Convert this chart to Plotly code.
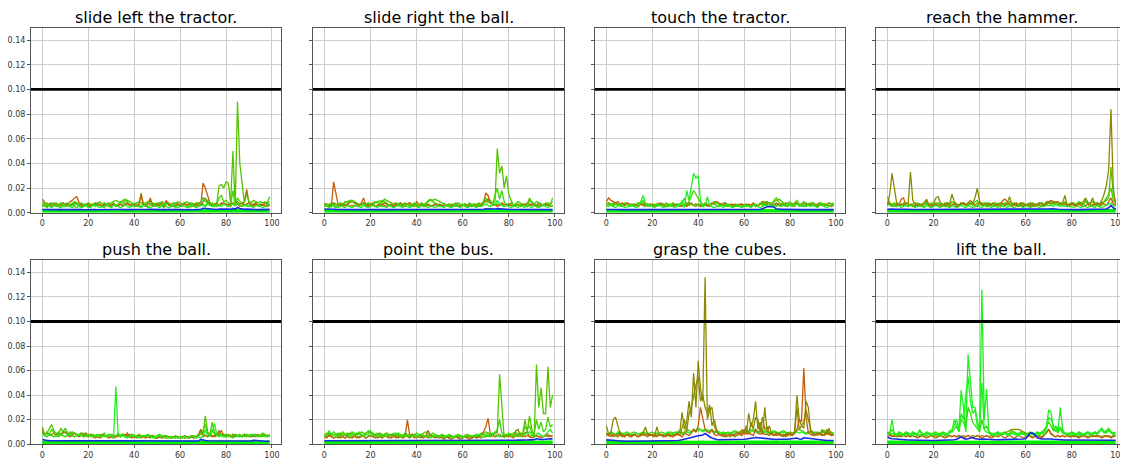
import plotly.graph_objects as go
from plotly.subplots import make_subplots

steps = list(range(100))
threshold = 0.10

titles = [
    "slide left the tractor.", "slide right the ball.", "touch the tractor.", "reach the hammer.",
    "push the ball.", "point the bus.", "grasp the cubes.", "lift the ball.",
]

# line colours
GREEN = '#55c400'
GREEN2 = '#3cd800'
LIME = '#1ef01e'
OLIVE = '#8a8a00'
ORANGE = '#c45e0c'
BLUE = '#1428e6'
FLOOR = '#00ee00'

floor = [
    2.2, 2.1, 2.3, 2.2, 2.1, 2.2, 2.0, 2.1, 2.2, 2.1,
    2.1, 2.2, 2.1, 2.0, 2.1, 2.2, 2.1, 2.1, 2.0, 2.1,
    2.2, 2.1, 2.0, 2.1, 2.2, 2.1, 2.1, 2.2, 2.1, 2.0,
    2.1, 2.2, 2.1, 2.1, 2.2, 2.1, 2.0, 2.1, 2.2, 2.1,
    2.1, 2.2, 2.1, 2.0, 2.1, 2.1, 2.2, 2.1, 2.0, 2.1,
    2.2, 2.1, 2.1, 2.0, 2.1, 2.2, 2.1, 2.1, 2.2, 2.1,
    2.0, 2.1, 2.2, 2.1, 2.1, 2.0, 2.1, 2.2, 2.1, 2.1,
    2.2, 2.1, 2.0, 2.1, 2.2, 2.1, 2.1, 2.2, 2.1, 2.0,
    2.1, 2.2, 2.1, 2.1, 2.0, 2.1, 2.2, 2.1, 2.1, 2.2,
    2.1, 2.0, 2.1, 2.2, 2.1, 2.1, 2.2, 2.1, 2.0, 2.2]

# --- slide left the tractor.
p1_green = [
    9, 7, 8, 6, 7, 8, 7, 6, 8, 7,
    7, 8, 6, 7, 9, 8, 7, 8, 6, 7,
    8, 7, 6, 8, 7, 9, 7, 8, 7, 6,
    8, 9, 10, 9, 8, 10, 11, 10, 9, 8,
    7, 8, 9, 8, 7, 8, 9, 7, 8, 7,
    8, 7, 9, 8, 7, 8, 6, 8, 7, 9,
    8, 7, 8, 9, 7, 8, 7, 8, 7, 9,
    12, 9, 10, 8, 7, 6, 8, 22, 23, 20,
    25, 24, 8, 50, 5, 90, 40, 25, 8, 15,
    9, 8, 10, 9, 8, 9, 8, 9, 8, 13]
p1_green2 = [
    5, 6, 4, 7, 5, 6, 8, 5, 4, 6,
    7, 5, 6, 8, 5, 4, 6, 7, 5, 6,
    4, 6, 7, 5, 8, 6, 5, 4, 7, 6,
    5, 8, 6, 7, 9, 8, 10, 9, 7, 6,
    5, 7, 6, 5, 8, 6, 4, 7, 5, 6,
    7, 5, 6, 4, 7, 8, 5, 6, 4, 7,
    5, 6, 8, 5, 4, 7, 6, 5, 8, 6,
    7, 5, 9, 6, 8, 5, 7, 12, 14, 9,
    10, 8, 6, 18, 7, 12, 9, 8, 6, 7,
    5, 7, 6, 8, 5, 7, 6, 5, 7, 9]
p1_lime = [
    6, 5, 7, 5, 4, 6, 5, 6, 4, 5,
    5, 6, 5, 4, 6, 7, 5, 4, 5, 6,
    5, 4, 6, 6, 5, 4, 5, 5, 7, 5,
    4, 6, 6, 5, 4, 5, 7, 5, 4, 6,
    5, 6, 5, 4, 6, 6, 5, 4, 5, 6,
    5, 4, 6, 7, 5, 4, 5, 6, 5, 4,
    5, 6, 5, 4, 6, 6, 5, 4, 5, 6,
    6, 5, 7, 6, 5, 6, 5, 6, 5, 7,
    6, 5, 6, 7, 6, 8, 6, 5, 6, 5,
    6, 5, 4, 6, 6, 5, 4, 5, 6, 7]
p1_olive = [
    7, 6, 5, 7, 8, 6, 5, 7, 6, 8,
    6, 7, 5, 6, 8, 7, 6, 5, 7, 6,
    7, 5, 6, 8, 6, 7, 5, 6, 7, 8,
    6, 7, 6, 5, 7, 6, 8, 7, 6, 5,
    7, 6, 5, 16, 7, 6, 8, 10, 6, 7,
    6, 8, 7, 6, 9, 7, 5, 6, 8, 7,
    6, 7, 8, 6, 7, 5, 6, 7, 8, 6,
    9, 12, 8, 7, 6, 7, 8, 6, 7, 8,
    7, 6, 8, 7, 6, 9, 7, 8, 6, 7,
    8, 6, 7, 8, 6, 7, 6, 8, 7, 6]
p1_orange = [
    11, 8, 6, 7, 5, 6, 7, 5, 6, 8,
    7, 6, 9, 10, 12, 13, 8, 6, 5, 7,
    6, 5, 7, 6, 8, 6, 5, 7, 6, 5,
    6, 7, 5, 6, 7, 5, 6, 8, 6, 7,
    6, 5, 7, 14, 6, 5, 7, 12, 6, 5,
    7, 6, 8, 5, 10, 6, 7, 5, 6, 7,
    6, 5, 7, 6, 8, 5, 6, 7, 5, 6,
    24, 20, 14, 8, 6, 7, 5, 6, 8, 7,
    6, 7, 5, 8, 6, 7, 5, 6, 9, 19,
    8, 6, 5, 7, 6, 5, 7, 6, 5, 6]
p1_blue = [
    2.6, 2.5, 2.5, 2.4, 2.5, 2.5, 2.4, 2.5, 2.5, 2.4,
    2.5, 2.5, 2.6, 2.5, 2.5, 2.7, 2.6, 2.5, 2.4, 2.5,
    2.5, 2.4, 2.5, 2.5, 2.4, 2.5, 2.5, 2.4, 2.5, 2.5,
    2.5, 2.6, 2.6, 2.5, 2.6, 2.7, 2.7, 2.6, 2.5, 2.5,
    2.6, 2.5, 2.6, 2.8, 2.6, 2.5, 2.6, 2.7, 2.5, 2.5,
    2.5, 2.5, 2.6, 2.5, 2.6, 2.5, 2.4, 2.5, 2.5, 2.6,
    2.5, 2.5, 2.5, 2.6, 2.5, 2.5, 2.4, 2.5, 2.5, 2.6,
    3.6, 3.4, 3.0, 2.8, 2.7, 2.6, 2.6, 2.9, 3.0, 2.9,
    3.1, 3.0, 2.7, 3.5, 2.8, 4.2, 3.4, 3.0, 2.7, 2.9,
    2.7, 2.6, 2.6, 2.6, 2.5, 2.6, 2.5, 2.5, 2.5, 2.7]

# --- slide right the ball.
p2_green = [
    8, 6, 7, 6, 7, 6, 7, 8, 7, 9,
    9, 10, 10, 9, 8, 7, 7, 6, 7, 8,
    7, 8, 9, 8, 10, 8, 11, 10, 9, 8,
    7, 8, 7, 6, 7, 8, 7, 6, 7, 6,
    7, 6, 8, 7, 6, 10, 11, 10, 11, 10,
    9, 8, 7, 6, 7, 6, 7, 6, 8, 7,
    6, 7, 6, 7, 6, 7, 6, 8, 7, 9,
    12, 8, 10, 7, 9, 52, 32, 38, 20, 30,
    15, 10, 6, 7, 6, 7, 5, 6, 7, 12,
    8, 7, 9, 8, 7, 6, 8, 7, 6, 12]
p2_green2 = [
    7, 5, 6, 8, 5, 4, 6, 7, 5, 9,
    8, 9, 10, 8, 7, 5, 6, 8, 5, 6,
    7, 6, 8, 9, 7, 10, 9, 8, 6, 7,
    5, 7, 6, 8, 5, 6, 7, 5, 6, 8,
    6, 5, 7, 6, 8, 9, 10, 9, 8, 7,
    6, 5, 7, 6, 5, 7, 6, 8, 5, 6,
    7, 5, 6, 8, 5, 6, 7, 5, 6, 9,
    10, 11, 8, 7, 14, 20, 11, 18, 9, 7,
    6, 8, 5, 7, 9, 8, 6, 7, 5, 10,
    9, 7, 6, 8, 5, 7, 6, 8, 7, 9]
p2_lime = [
    5, 6, 4, 5, 6, 5, 4, 6, 5, 4,
    6, 5, 4, 6, 5, 5, 4, 6, 5, 4,
    5, 6, 5, 4, 6, 5, 5, 4, 6, 5,
    4, 5, 6, 5, 4, 6, 5, 4, 5, 6,
    5, 4, 6, 5, 5, 4, 6, 5, 4, 6,
    5, 5, 4, 6, 5, 4, 5, 6, 5, 4,
    6, 5, 4, 5, 6, 5, 4, 6, 5, 6,
    7, 6, 5, 8, 6, 10, 7, 6, 5, 6,
    5, 4, 6, 5, 4, 6, 5, 4, 6, 5,
    4, 6, 5, 4, 5, 6, 5, 4, 6, 5]
p2_olive = [
    6, 7, 5, 6, 8, 7, 6, 5, 7, 6,
    7, 8, 9, 8, 7, 6, 7, 8, 6, 7,
    6, 7, 5, 6, 7, 6, 8, 7, 6, 5,
    6, 7, 6, 5, 7, 6, 7, 8, 6, 7,
    6, 5, 7, 6, 5, 7, 6, 5, 7, 6,
    7, 6, 5, 6, 7, 5, 6, 7, 6, 5,
    6, 7, 5, 6, 7, 6, 5, 7, 6, 8,
    9, 11, 8, 7, 6, 7, 6, 8, 7, 6,
    7, 6, 5, 6, 7, 6, 7, 6, 8, 7,
    6, 7, 6, 5, 7, 6, 7, 6, 5, 6]
p2_orange = [
    5, 7, 6, 5, 25, 15, 6, 7, 5, 6,
    7, 5, 6, 5, 7, 6, 8, 12, 6, 5,
    6, 7, 5, 6, 5, 7, 6, 5, 6, 7,
    5, 6, 7, 8, 6, 5, 7, 8, 6, 5,
    9, 7, 6, 5, 7, 6, 5, 6, 7, 5,
    6, 5, 7, 6, 5, 6, 7, 5, 6, 5,
    6, 7, 5, 6, 5, 7, 6, 5, 6, 8,
    16, 14, 8, 6, 7, 5, 6, 7, 5, 6,
    7, 6, 5, 7, 6, 5, 6, 7, 5, 6,
    7, 6, 5, 8, 7, 6, 7, 6, 5, 6]
p2_blue = [
    3.0, 2.8, 2.7, 2.7, 2.8, 2.7, 2.6, 2.6, 2.5, 2.5,
    2.5, 2.5, 2.6, 2.5, 2.5, 2.5, 2.5, 2.6, 2.5, 2.5,
    2.5, 2.5, 2.5, 2.5, 2.5, 2.5, 2.5, 2.5, 2.5, 2.5,
    2.5, 2.5, 2.5, 2.5, 2.5, 2.6, 2.5, 2.5, 2.5, 2.5,
    2.5, 2.5, 2.5, 2.5, 2.5, 2.5, 2.5, 2.5, 2.5, 2.5,
    2.5, 2.5, 2.5, 2.5, 2.5, 2.5, 2.5, 2.5, 2.5, 2.5,
    2.5, 2.5, 2.5, 2.5, 2.5, 2.5, 2.5, 2.5, 2.5, 2.6,
    3.2, 3.0, 3.0, 2.9, 3.0, 3.3, 3.1, 3.0, 2.8, 2.7,
    2.7, 2.6, 2.6, 2.6, 2.5, 2.5, 2.5, 2.5, 2.5, 2.5,
    2.5, 2.5, 2.5, 2.5, 2.5, 2.5, 2.5, 2.5, 2.5, 2.5]

# --- touch the tractor.
p3_green = [
    8, 7, 6, 8, 7, 6, 7, 6, 8, 7,
    6, 7, 6, 7, 8, 7, 8, 6, 7, 6,
    7, 6, 7, 6, 7, 6, 6, 7, 6, 8,
    7, 6, 7, 6, 7, 8, 6, 7, 6, 7,
    6, 7, 6, 8, 7, 6, 7, 9, 8, 7,
    6, 7, 6, 5, 6, 5, 6, 5, 6, 5,
    6, 5, 6, 5, 6, 7, 6, 7, 8, 7,
    9, 7, 8, 9, 10, 11, 10, 8, 7, 8,
    7, 6, 8, 10, 7, 6, 8, 7, 6, 7,
    8, 6, 7, 8, 6, 7, 6, 8, 7, 8]
p3_green2 = [
    5, 7, 6, 5, 8, 6, 7, 5, 6, 7,
    6, 5, 7, 6, 5, 8, 10, 6, 7, 5,
    6, 7, 5, 6, 7, 5, 8, 6, 5, 7,
    6, 5, 7, 8, 12, 6, 9, 14, 18, 15,
    11, 8, 6, 7, 5, 6, 8, 7, 6, 5,
    7, 6, 5, 7, 6, 5, 6, 7, 5, 6,
    5, 7, 6, 5, 7, 6, 5, 8, 6, 9,
    7, 8, 6, 10, 12, 9, 7, 8, 6, 7,
    9, 7, 6, 8, 5, 7, 9, 6, 7, 8,
    6, 7, 5, 6, 8, 6, 7, 5, 6, 7]
p3_lime = [
    6, 5, 7, 5, 4, 6, 5, 6, 4, 5,
    5, 6, 5, 4, 6, 9, 14, 8, 5, 6,
    5, 4, 6, 6, 5, 4, 5, 5, 7, 5,
    4, 6, 6, 10, 4, 18, 10, 20, 32, 28,
    30, 10, 5, 6, 13, 6, 5, 4, 5, 6,
    5, 4, 6, 7, 5, 4, 5, 6, 5, 4,
    5, 6, 5, 4, 6, 6, 5, 4, 5, 6,
    6, 5, 7, 6, 5, 6, 5, 6, 5, 7,
    6, 5, 6, 7, 6, 5, 6, 5, 6, 5,
    6, 5, 4, 6, 6, 5, 4, 5, 6, 7]
p3_olive = [
    7, 8, 7, 6, 8, 7, 6, 7, 6, 8,
    6, 7, 5, 6, 8, 7, 6, 5, 7, 6,
    7, 5, 6, 8, 6, 7, 5, 6, 7, 6,
    6, 7, 6, 5, 7, 6, 8, 7, 6, 5,
    7, 6, 5, 6, 7, 6, 8, 7, 9, 7,
    6, 8, 7, 6, 6, 7, 5, 6, 7, 7,
    6, 7, 6, 6, 7, 5, 6, 7, 8, 6,
    7, 8, 7, 6, 8, 7, 6, 7, 6, 5,
    7, 6, 8, 7, 6, 7, 7, 8, 6, 7,
    8, 6, 7, 8, 6, 7, 6, 8, 7, 6]
p3_orange = [
    9, 12, 10, 9, 8, 9, 7, 8, 6, 8,
    7, 6, 7, 6, 5, 7, 6, 8, 6, 7,
    6, 5, 7, 6, 8, 6, 5, 7, 6, 5,
    6, 7, 5, 6, 7, 5, 6, 8, 6, 7,
    6, 5, 7, 6, 6, 5, 7, 9, 9, 8,
    7, 6, 8, 5, 7, 6, 7, 5, 6, 7,
    6, 5, 7, 6, 8, 5, 6, 7, 9, 8,
    9, 7, 6, 7, 6, 7, 5, 6, 8, 7,
    6, 7, 5, 8, 6, 7, 5, 6, 7, 6,
    8, 6, 5, 7, 6, 5, 7, 6, 5, 6]
p3_blue = [
    2.6, 2.6, 2.7, 3.2, 2.8, 2.6, 2.5, 2.5, 2.5, 2.5,
    2.5, 2.5, 2.5, 2.5, 2.5, 2.6, 2.6, 2.5, 2.5, 2.5,
    2.5, 2.5, 2.5, 2.5, 2.5, 2.5, 2.5, 2.5, 2.5, 2.5,
    2.5, 2.5, 2.6, 2.6, 2.6, 2.7, 2.7, 2.8, 2.8, 2.7,
    2.7, 2.6, 2.5, 2.5, 2.6, 2.5, 2.5, 2.5, 2.5, 2.5,
    2.5, 2.5, 2.5, 2.5, 2.5, 2.5, 2.5, 2.5, 2.5, 2.5,
    2.5, 2.5, 2.5, 2.5, 2.5, 2.5, 2.5, 2.6, 3.2, 4.2,
    4.8, 5.0, 5.0, 4.6, 3.2, 2.8, 2.7, 2.7, 2.6, 2.6,
    2.6, 2.5, 2.5, 2.5, 2.5, 2.5, 2.5, 2.5, 2.5, 2.5,
    2.5, 2.5, 2.5, 2.5, 2.5, 2.5, 2.5, 2.5, 2.5, 2.5]

# --- reach the hammer.
p4_green = [
    13, 8, 7, 6, 8, 7, 6, 7, 8, 7,
    6, 7, 8, 7, 6, 7, 8, 7, 6, 8,
    7, 6, 8, 7, 6, 7, 8, 7, 6, 8,
    7, 6, 7, 8, 7, 6, 8, 7, 6, 8,
    7, 8, 6, 7, 8, 7, 6, 8, 7, 6,
    7, 6, 8, 7, 6, 7, 8, 6, 7, 8,
    6, 7, 6, 8, 7, 6, 7, 8, 7, 6,
    8, 7, 8, 7, 6, 8, 7, 8, 7, 6,
    7, 8, 6, 7, 8, 7, 9, 8, 7, 6,
    8, 7, 6, 8, 9, 10, 12, 37, 15, 9]
p4_green2 = [
    9, 7, 6, 8, 5, 7, 6, 8, 6, 5,
    7, 6, 5, 8, 7, 6, 5, 9, 6, 7,
    6, 8, 7, 5, 6, 8, 7, 6, 9, 7,
    5, 6, 8, 7, 6, 7, 8, 6, 9, 10,
    7, 6, 8, 5, 7, 6, 8, 7, 5, 6,
    7, 8, 6, 9, 7, 6, 7, 5, 8, 6,
    7, 6, 8, 5, 7, 6, 8, 7, 6, 7,
    8, 9, 7, 8, 6, 7, 8, 9, 6, 7,
    8, 6, 7, 9, 8, 6, 10, 7, 8, 9,
    6, 8, 7, 6, 9, 12, 15, 20, 10, 8]
p4_lime = [
    7, 6, 5, 6, 5, 6, 4, 5, 6, 5,
    6, 5, 4, 6, 5, 5, 4, 6, 5, 4,
    5, 6, 5, 4, 6, 5, 5, 4, 6, 5,
    4, 5, 6, 5, 4, 6, 5, 4, 5, 6,
    5, 4, 6, 5, 5, 4, 6, 5, 4, 6,
    5, 5, 4, 6, 5, 4, 5, 6, 5, 4,
    6, 5, 4, 5, 6, 5, 4, 6, 5, 6,
    6, 6, 5, 7, 6, 5, 6, 5, 6, 5,
    5, 4, 6, 5, 4, 6, 5, 4, 6, 5,
    4, 6, 5, 4, 5, 6, 7, 8, 6, 5]
p4_olive = [
    6, 15, 32, 20, 8, 6, 7, 6, 8, 7,
    33, 10, 7, 6, 7, 6, 8, 10, 7, 6,
    7, 12, 13, 8, 7, 6, 8, 7, 15, 9,
    7, 6, 8, 7, 6, 8, 7, 8, 12, 20,
    9, 6, 7, 8, 6, 7, 8, 6, 7, 8,
    7, 6, 8, 13, 7, 8, 6, 7, 8, 7,
    6, 7, 8, 7, 6, 7, 8, 7, 6, 9,
    8, 7, 8, 9, 8, 7, 8, 14, 6, 7,
    8, 7, 6, 8, 7, 9, 12, 8, 7, 12,
    7, 8, 7, 10, 15, 22, 35, 84, 20, 6]
p4_orange = [
    8, 7, 6, 5, 7, 6, 11, 12, 6, 5,
    7, 5, 6, 5, 7, 6, 8, 11, 6, 5,
    6, 7, 5, 6, 5, 7, 6, 5, 6, 7,
    5, 6, 7, 8, 6, 8, 10, 8, 6, 5,
    9, 7, 6, 5, 7, 6, 5, 6, 7, 5,
    10, 11, 9, 6, 5, 6, 7, 5, 6, 5,
    6, 7, 5, 6, 5, 7, 6, 5, 6, 8,
    9, 10, 9, 8, 9, 7, 6, 7, 5, 6,
    7, 6, 5, 7, 6, 5, 6, 7, 5, 6,
    7, 6, 5, 8, 7, 6, 9, 12, 7, 6]
p4_blue = [
    2.8, 2.6, 3.0, 2.9, 2.8, 2.8, 2.7, 2.7, 2.6, 2.6,
    2.7, 2.7, 2.6, 2.6, 2.6, 2.5, 2.6, 2.7, 2.6, 2.5,
    2.6, 2.6, 2.6, 2.5, 2.5, 2.4, 2.5, 2.5, 2.5, 2.5,
    2.5, 2.5, 2.5, 2.6, 2.6, 2.6, 2.7, 2.8, 2.8, 2.8,
    2.7, 2.6, 2.6, 2.6, 2.5, 2.5, 2.6, 2.5, 2.5, 2.5,
    2.5, 2.5, 2.5, 2.5, 2.5, 2.5, 2.5, 2.5, 2.5, 2.5,
    2.5, 2.5, 2.5, 2.5, 2.5, 2.5, 2.5, 2.6, 2.6, 2.7,
    3.0, 3.2, 3.3, 3.0, 2.8, 2.7, 2.6, 2.6, 2.4, 2.7,
    2.6, 2.6, 2.5, 2.5, 2.5, 2.5, 2.6, 2.6, 2.6, 2.6,
    2.6, 2.6, 2.6, 2.6, 2.7, 3.0, 4.0, 6.0, 4.0, 2.8]

# --- push the ball.
p5_green = [
    14, 8, 9, 12, 16, 11, 9, 8, 13, 10,
    13, 9, 8, 10, 9, 8, 7, 8, 9, 7,
    8, 7, 8, 7, 6, 8, 7, 6, 7, 8,
    7, 6, 7, 6, 7, 8, 7, 6, 7, 8,
    6, 7, 6, 7, 6, 7, 6, 7, 6, 5,
    6, 7, 6, 7, 6, 5, 6, 5, 6, 5,
    6, 5, 6, 5, 6, 7, 6, 5, 7, 8,
    9, 23, 10, 8, 18, 9, 8, 7, 8, 7,
    8, 7, 6, 7, 8, 7, 6, 7, 8, 7,
    6, 7, 8, 7, 6, 7, 8, 7, 6, 7]
p5_green2 = [
    9, 7, 10, 8, 12, 9, 7, 10, 8, 11,
    9, 8, 10, 7, 9, 8, 7, 9, 8, 6,
    7, 8, 6, 7, 8, 6, 7, 9, 6, 7,
    8, 7, 6, 9, 7, 8, 6, 7, 8, 6,
    7, 6, 8, 7, 6, 7, 8, 6, 7, 6,
    7, 8, 7, 6, 7, 6, 5, 6, 7, 6,
    5, 6, 7, 6, 5, 6, 7, 6, 8, 9,
    11, 16, 9, 7, 12, 8, 7, 8, 7, 8,
    7, 8, 7, 6, 8, 7, 8, 6, 7, 8,
    7, 8, 6, 7, 8, 7, 9, 8, 7, 8]
p5_lime = [
    8, 7, 6, 8, 7, 6, 7, 6, 8, 7,
    6, 7, 8, 7, 6, 7, 8, 7, 6, 7,
    7, 6, 7, 6, 7, 6, 6, 7, 6, 8,
    7, 5, 47, 8, 6, 7, 6, 5, 6, 7,
    7, 6, 5, 6, 7, 6, 7, 6, 5, 6,
    6, 7, 6, 5, 6, 5, 6, 5, 6, 5,
    6, 5, 6, 5, 6, 7, 6, 5, 6, 5,
    7, 12, 6, 7, 10, 17, 7, 6, 7, 6,
    6, 7, 6, 5, 6, 7, 6, 7, 6, 7,
    6, 7, 8, 7, 6, 7, 6, 7, 6, 7]
p5_olive = [
    10, 8, 9, 7, 8, 9, 7, 8, 7, 9,
    10, 8, 7, 8, 9, 7, 8, 9, 7, 8,
    7, 8, 7, 6, 7, 6, 8, 7, 6, 7,
    6, 7, 6, 7, 6, 7, 8, 7, 6, 8,
    7, 6, 7, 6, 7, 6, 7, 6, 7, 6,
    5, 6, 5, 6, 5, 6, 5, 6, 5, 6,
    5, 6, 5, 6, 5, 6, 5, 6, 7, 12,
    8, 7, 6, 7, 6, 7, 8, 11, 7, 6,
    7, 6, 7, 6, 7, 6, 7, 6, 7, 6,
    7, 6, 7, 6, 7, 6, 7, 6, 7, 6]
p5_orange = [
    12, 7, 6, 8, 7, 6, 7, 6, 8, 7,
    6, 7, 6, 7, 6, 7, 6, 7, 6, 9,
    6, 7, 6, 5, 6, 5, 6, 7, 6, 5,
    6, 5, 6, 7, 6, 8, 6, 9, 6, 5,
    6, 5, 6, 5, 6, 5, 6, 5, 6, 5,
    5, 6, 5, 6, 5, 6, 5, 6, 5, 6,
    5, 6, 5, 6, 5, 6, 5, 6, 7, 12,
    6, 7, 6, 8, 7, 6, 7, 9, 11, 7,
    6, 7, 6, 8, 6, 7, 6, 7, 8, 6,
    7, 6, 7, 8, 6, 7, 8, 7, 6, 7]
p5_blue = [
    3.8, 3.2, 3.0, 2.9, 2.9, 2.8, 2.8, 2.8, 2.7, 2.7,
    2.7, 2.7, 2.6, 2.6, 2.6, 2.6, 2.6, 2.5, 2.5, 2.5,
    2.3, 2.3, 2.4, 2.4, 2.4, 2.5, 2.5, 2.5, 2.5, 2.5,
    2.5, 2.5, 2.6, 2.5, 2.5, 2.5, 2.5, 2.5, 2.5, 2.5,
    2.3, 2.3, 2.4, 2.4, 2.4, 2.4, 2.4, 2.4, 2.4, 2.4,
    2.4, 2.4, 2.4, 2.4, 2.4, 2.4, 2.4, 2.3, 2.3, 2.3,
    2.3, 2.3, 2.3, 2.3, 2.3, 2.3, 2.3, 2.4, 2.5, 3.8,
    3.2, 3.0, 2.8, 2.8, 2.7, 2.7, 2.6, 2.6, 2.6, 2.6,
    2.5, 2.5, 2.5, 2.5, 2.5, 2.5, 2.5, 2.5, 2.5, 2.5,
    2.5, 2.6, 3.2, 3.0, 2.6, 2.5, 2.4, 2.4, 2.4, 2.4]

# --- point the bus.
p6_green = [
    8, 7, 9, 8, 7, 8, 7, 9, 8, 7,
    8, 9, 8, 7, 8, 9, 8, 7, 9, 10,
    9, 8, 7, 9, 8, 7, 8, 9, 7, 8,
    7, 8, 7, 6, 7, 8, 7, 6, 7, 8,
    7, 6, 8, 7, 6, 7, 8, 7, 6, 7,
    6, 7, 6, 7, 6, 7, 6, 7, 6, 7,
    6, 7, 6, 7, 6, 7, 6, 7, 7, 8,
    7, 9, 8, 7, 10, 9, 57, 30, 5, 8,
    7, 8, 7, 8, 7, 9, 8, 20, 10, 23,
    12, 5, 65, 30, 46, 25, 25, 63, 30, 40]
p6_green2 = [
    7, 9, 8, 7, 10, 8, 9, 7, 10, 8,
    9, 7, 10, 8, 9, 8, 10, 9, 8, 11,
    10, 9, 8, 7, 9, 8, 7, 9, 8, 7,
    8, 7, 9, 8, 7, 9, 8, 7, 8, 7,
    9, 8, 7, 9, 10, 8, 7, 9, 8, 7,
    7, 8, 7, 6, 8, 7, 6, 7, 8, 7,
    6, 7, 8, 7, 6, 7, 8, 7, 9, 8,
    10, 9, 7, 8, 9, 12, 20, 9, 8, 7,
    9, 8, 9, 10, 8, 9, 8, 14, 12, 15,
    9, 8, 20, 12, 18, 10, 12, 22, 14, 16]
p6_lime = [
    6, 7, 11, 8, 7, 6, 8, 9, 7, 8,
    8, 6, 8, 9, 7, 10, 7, 6, 8, 7,
    11, 7, 8, 6, 7, 6, 7, 6, 8, 7,
    9, 9, 8, 7, 6, 7, 6, 7, 6, 7,
    6, 7, 8, 6, 7, 6, 5, 6, 7, 6,
    6, 7, 5, 6, 7, 6, 5, 6, 7, 6,
    5, 6, 7, 6, 7, 6, 7, 8, 7, 6,
    7, 6, 8, 9, 8, 7, 6, 7, 8, 7,
    8, 7, 6, 8, 7, 6, 7, 8, 9, 10,
    7, 6, 8, 9, 7, 6, 8, 10, 12, 9]
p6_olive = [
    5, 6, 7, 6, 5, 6, 5, 7, 6, 5,
    6, 5, 6, 7, 5, 6, 7, 6, 5, 6,
    7, 6, 5, 6, 7, 5, 6, 7, 6, 5,
    6, 7, 5, 6, 5, 7, 6, 5, 6, 7,
    5, 6, 5, 7, 6, 5, 7, 6, 5, 6,
    5, 6, 5, 6, 5, 6, 5, 6, 5, 6,
    5, 6, 5, 6, 5, 6, 5, 6, 5, 6,
    6, 7, 6, 7, 6, 7, 6, 7, 6, 7,
    6, 7, 6, 11, 12, 7, 6, 9, 10, 6,
    7, 6, 7, 6, 7, 6, 7, 6, 7, 6]
p6_orange = [
    6, 5, 7, 6, 5, 6, 7, 5, 6, 5,
    7, 6, 5, 6, 7, 5, 6, 7, 5, 6,
    7, 6, 7, 5, 6, 5, 7, 6, 5, 6,
    7, 5, 6, 7, 5, 6, 20, 7, 8, 5,
    6, 7, 6, 5, 7, 11, 7, 6, 7, 5,
    6, 5, 4, 6, 5, 4, 5, 6, 5, 4,
    5, 6, 5, 4, 5, 6, 5, 6, 7, 10,
    14, 21, 8, 7, 6, 7, 8, 6, 7, 6,
    7, 6, 5, 7, 6, 7, 8, 6, 7, 6,
    5, 6, 7, 6, 5, 6, 7, 8, 6, 7]
p6_blue = [
    2.8, 2.8, 2.8, 2.8, 2.8, 2.8, 2.8, 2.7, 2.7, 2.7,
    2.7, 2.7, 2.7, 2.7, 2.7, 2.7, 2.7, 2.7, 2.7, 2.7,
    2.7, 2.6, 2.6, 2.6, 2.6, 2.6, 2.6, 2.6, 2.6, 2.6,
    2.6, 2.6, 2.6, 2.6, 2.6, 2.6, 2.7, 2.6, 2.6, 2.6,
    2.6, 2.6, 2.6, 2.6, 2.6, 2.6, 2.6, 2.6, 2.6, 2.6,
    2.6, 2.6, 2.6, 2.6, 2.6, 2.6, 2.6, 2.6, 2.6, 2.6,
    2.6, 2.6, 2.6, 2.6, 2.6, 2.6, 2.6, 2.6, 2.7, 2.8,
    3.0, 3.2, 3.0, 2.9, 3.0, 3.1, 3.2, 3.1, 3.0, 3.0,
    3.0, 3.0, 3.1, 3.2, 3.3, 3.2, 3.3, 3.5, 3.4, 3.5,
    3.6, 3.6, 4.4, 3.8, 3.8, 3.8, 4.0, 4.6, 4.4, 4.3]

# --- grasp the cubes.
p7_olive = [
    15, 8, 10, 20, 22, 14, 8, 7, 6, 8,
    7, 6, 8, 7, 6, 8, 9, 14, 8, 7,
    8, 6, 14, 8, 7, 6, 8, 7, 6, 8,
    7, 8, 10, 26, 12, 18, 35, 22, 58, 30,
    68, 45, 35, 136, 20, 28, 30, 15, 10, 8,
    7, 6, 8, 7, 6, 8, 7, 9, 10, 8,
    12, 9, 25, 14, 20, 35, 12, 18, 8, 30,
    10, 15, 8, 7, 9, 8, 7, 6, 8, 7,
    9, 8, 10, 40, 20, 15, 13, 35, 30, 10,
    8, 7, 9, 8, 12, 9, 8, 13, 7, 8]
p7_olive2 = [
    9, 7, 8, 6, 7, 8, 7, 6, 7, 8,
    6, 7, 8, 7, 6, 7, 8, 7, 9, 8,
    7, 6, 7, 8, 7, 6, 7, 8, 7, 6,
    8, 9, 7, 14, 20, 10, 25, 30, 40, 48,
    55, 35, 40, 30, 25, 32, 15, 20, 12, 8,
    7, 8, 6, 7, 8, 7, 6, 7, 8, 12,
    9, 15, 8, 18, 12, 22, 20, 10, 22, 12,
    14, 9, 8, 7, 8, 9, 7, 8, 6, 7,
    8, 7, 9, 30, 12, 15, 18, 28, 20, 12,
    9, 8, 7, 9, 8, 7, 12, 9, 8, 7]
p7_green2 = [
    9, 8, 10, 9, 8, 9, 10, 8, 9, 10,
    8, 9, 10, 9, 8, 9, 10, 9, 8, 9,
    10, 9, 8, 9, 10, 9, 8, 9, 10, 9,
    9, 10, 11, 9, 10, 12, 11, 10, 12, 11,
    13, 12, 11, 12, 10, 11, 12, 10, 11, 10,
    9, 10, 9, 10, 9, 10, 11, 10, 9, 10,
    10, 11, 10, 12, 11, 12, 10, 11, 10, 11,
    10, 9, 10, 11, 10, 9, 10, 11, 10, 9,
    10, 9, 10, 11, 12, 11, 10, 9, 10, 11,
    10, 9, 10, 9, 10, 11, 10, 9, 10, 9]
p7_lime = [
    8, 7, 9, 8, 7, 10, 8, 9, 7, 8,
    9, 8, 7, 9, 8, 7, 8, 9, 7, 8,
    7, 8, 9, 8, 7, 8, 9, 10, 8, 9,
    10, 9, 10, 8, 9, 10, 9, 10, 11, 10,
    11, 12, 10, 11, 12, 10, 11, 9, 10, 9,
    8, 9, 8, 9, 8, 9, 10, 9, 8, 9,
    9, 10, 9, 10, 11, 10, 9, 10, 9, 10,
    9, 8, 9, 10, 9, 8, 9, 10, 9, 8,
    9, 8, 9, 10, 9, 10, 9, 8, 9, 10,
    9, 10, 9, 8, 9, 10, 9, 8, 9, 8]
p7_orange = [
    8, 7, 6, 8, 7, 6, 9, 7, 6, 8,
    7, 6, 8, 7, 6, 7, 8, 7, 6, 8,
    7, 8, 6, 7, 8, 7, 6, 8, 7, 6,
    7, 8, 7, 6, 9, 8, 7, 9, 12, 10,
    15, 30, 20, 12, 10, 9, 12, 8, 7, 8,
    7, 8, 6, 7, 8, 7, 8, 9, 8, 7,
    9, 8, 9, 8, 7, 12, 9, 8, 9, 8,
    8, 7, 9, 8, 7, 8, 7, 8, 7, 9,
    8, 7, 9, 12, 20, 18, 62, 22, 9, 8,
    7, 8, 9, 8, 7, 8, 9, 8, 7, 8]
p7_blue = [
    3.5, 3.5, 3.6, 3.4, 3.0, 2.8, 2.6, 2.4, 2.4, 2.4,
    2.4, 2.5, 2.4, 2.4, 2.4, 2.5, 2.5, 2.6, 2.5, 2.5,
    2.5, 2.5, 2.5, 2.5, 2.5, 2.5, 2.6, 2.6, 2.6, 2.6,
    2.8, 3.0, 3.2, 3.6, 4.0, 4.2, 4.6, 5.0, 5.8, 6.5,
    7.0, 7.2, 7.4, 8.6, 7.0, 6.0, 5.0, 4.2, 3.8, 3.6,
    3.6, 3.5, 3.6, 3.8, 3.8, 3.6, 3.8, 3.8, 3.8, 3.8,
    4.0, 4.2, 4.6, 5.0, 5.2, 5.4, 5.2, 5.0, 4.6, 4.8,
    4.4, 4.0, 3.8, 3.6, 3.8, 4.0, 3.8, 3.8, 4.0, 4.0,
    4.2, 4.0, 4.4, 5.0, 4.2, 4.0, 5.2, 5.0, 4.4, 4.2,
    3.8, 3.6, 3.4, 3.4, 3.2, 3.0, 3.0, 3.0, 3.0, 3.0]

# --- lift the ball.
p8_lime = [
    8, 9, 20, 8, 7, 9, 8, 7, 9, 8,
    7, 9, 8, 7, 12, 8, 7, 9, 8, 7,
    8, 9, 7, 8, 9, 8, 7, 10, 12, 15,
    20, 12, 44, 30, 10, 73, 50, 30, 30, 20,
    10, 126, 20, 45, 10, 8, 9, 7, 8, 9,
    8, 9, 7, 8, 10, 9, 8, 7, 9, 8,
    7, 8, 9, 8, 7, 9, 8, 9, 10, 15,
    28, 26, 12, 15, 10, 30, 12, 9, 8, 7,
    9, 8, 7, 9, 8, 7, 8, 9, 7, 8,
    9, 8, 10, 12, 9, 10, 12, 9, 8, 7]
p8_lime2 = [
    10, 9, 8, 9, 7, 8, 9, 7, 8, 9,
    8, 7, 9, 8, 7, 9, 8, 7, 8, 9,
    7, 8, 9, 7, 8, 9, 8, 9, 10, 20,
    14, 10, 25, 20, 40, 55, 35, 25, 28, 15,
    12, 50, 12, 10, 9, 8, 7, 8, 9, 7,
    8, 9, 8, 7, 9, 8, 7, 9, 8, 9,
    8, 7, 9, 8, 9, 7, 8, 9, 8, 12,
    22, 20, 15, 10, 14, 12, 9, 8, 9, 8,
    7, 9, 8, 7, 9, 8, 9, 10, 9, 8,
    10, 9, 11, 13, 10, 9, 11, 10, 9, 10]
p8_green2 = [
    9, 8, 12, 9, 8, 10, 9, 8, 10, 9,
    8, 10, 9, 8, 11, 9, 8, 10, 9, 8,
    9, 10, 8, 9, 10, 9, 8, 11, 10, 12,
    15, 10, 20, 18, 12, 30, 25, 18, 15, 12,
    10, 20, 12, 15, 10, 9, 8, 9, 10, 8,
    9, 10, 8, 9, 11, 10, 9, 8, 10, 9,
    8, 9, 10, 9, 8, 10, 9, 10, 12, 14,
    18, 15, 11, 12, 9, 14, 10, 9, 8, 9,
    10, 9, 8, 10, 9, 8, 9, 10, 8, 9,
    10, 9, 11, 12, 10, 11, 13, 10, 9, 8]
p8_olive = [
    8, 7, 6, 7, 6, 7, 6, 7, 6, 7,
    6, 7, 6, 7, 6, 7, 6, 7, 6, 7,
    6, 7, 6, 7, 6, 7, 6, 7, 6, 7,
    6, 7, 6, 7, 6, 7, 6, 7, 6, 7,
    6, 7, 6, 7, 6, 7, 6, 7, 6, 7,
    8, 9, 10, 11, 12, 12, 12, 12, 11, 10,
    9, 8, 7, 6, 7, 6, 7, 6, 8, 9,
    12, 8, 7, 6, 7, 6, 7, 6, 7, 6,
    7, 6, 7, 6, 7, 6, 7, 6, 7, 6,
    7, 6, 7, 6, 7, 6, 7, 6, 7, 6]
p8_orange = [
    10, 8, 7, 6, 7, 6, 7, 8, 6, 7,
    6, 7, 6, 5, 6, 7, 6, 5, 6, 7,
    6, 5, 6, 7, 6, 5, 6, 7, 6, 7,
    6, 7, 6, 5, 6, 7, 6, 5, 6, 7,
    6, 5, 6, 7, 6, 5, 6, 7, 6, 8,
    6, 5, 6, 7, 6, 5, 6, 7, 6, 5,
    6, 7, 6, 5, 6, 7, 6, 5, 7, 10,
    12, 9, 7, 6, 7, 6, 7, 6, 7, 6,
    6, 7, 6, 5, 6, 7, 6, 5, 6, 7,
    6, 7, 6, 5, 6, 7, 6, 5, 6, 7]
p8_blue = [
    6.0, 4.8, 4.4, 4.2, 4.0, 3.8, 3.6, 3.4, 3.4, 3.4,
    3.4, 3.2, 3.2, 3.2, 3.2, 3.2, 3.0, 3.0, 3.0, 3.0,
    3.0, 3.0, 3.0, 3.0, 3.0, 3.0, 3.0, 3.0, 3.2, 3.6,
    4.0, 4.8, 6.0, 4.8, 4.0, 4.4, 5.2, 5.4, 4.4, 4.0,
    4.0, 4.2, 4.0, 3.8, 3.6, 3.6, 3.6, 3.6, 3.6, 3.6,
    3.8, 3.6, 3.8, 3.6, 3.8, 3.8, 3.8, 3.8, 3.8, 4.2,
    4.4, 6.5, 9.0, 9.0, 7.5, 5.2, 4.4, 4.2, 4.2, 4.4,
    4.2, 4.2, 4.0, 3.8, 3.8, 3.8, 3.6, 3.4, 3.4, 3.4,
    3.4, 3.4, 3.2, 3.2, 3.2, 3.2, 3.2, 3.2, 3.2, 3.2,
    3.2, 3.2, 3.2, 3.2, 3.2, 3.2, 3.2, 3.2, 3.2, 3.2]

panels = [
    [(p1_green2, GREEN2), (p1_olive, OLIVE), (p1_orange, ORANGE), (p1_green, GREEN), (p1_lime, LIME)],
    [(p2_green2, GREEN2), (p2_olive, OLIVE), (p2_orange, ORANGE), (p2_green, GREEN), (p2_lime, LIME)],
    [(p3_green2, GREEN2), (p3_olive, OLIVE), (p3_orange, ORANGE), (p3_green, GREEN), (p3_lime, LIME)],
    [(p4_green2, GREEN2), (p4_green, GREEN), (p4_orange, ORANGE), (p4_lime, LIME), (p4_olive, OLIVE)],
    [(p5_green2, GREEN2), (p5_olive, OLIVE), (p5_orange, ORANGE), (p5_green, GREEN), (p5_lime, LIME)],
    [(p6_green2, GREEN2), (p6_olive, OLIVE), (p6_orange, ORANGE), (p6_lime, LIME), (p6_green, GREEN)],
    [(p7_green2, GREEN2), (p7_lime, LIME), (p7_olive2, OLIVE), (p7_olive, OLIVE), (p7_orange, ORANGE)],
    [(p8_green2, GREEN2), (p8_olive, OLIVE), (p8_orange, ORANGE), (p8_lime2, LIME), (p8_lime, LIME)],
]
means = [p1_blue, p2_blue, p3_blue, p4_blue, p5_blue, p6_blue, p7_blue, p8_blue]

# the page puts the figure 8px in from the top-left corner
OFF = 8
W, H = 1120, 453
# axes boxes in page pixels (left, right) and (top, bottom)
col_px = [(31, 281), (313, 564), (595, 845), (876, 1127)]
row_px = [(28, 215), (263, 449)]

fig = make_subplots(rows=2, cols=4)

for i, series in enumerate(panels):
    r, c = i // 4 + 1, i % 4 + 1
    for vals, col in series:
        fig.add_trace(go.Scatter(x=steps, y=[v / 1000 for v in vals], mode='lines',
                                 line=dict(color=col, width=1.3)), row=r, col=c)
    fig.add_trace(go.Scatter(x=steps, y=[v / 1000 for v in floor], mode='lines', fill='tozeroy',
                             fillcolor=FLOOR, line=dict(color=FLOOR, width=2)), row=r, col=c)
    fig.add_trace(go.Scatter(x=steps, y=[v / 1000 for v in means[i]], mode='lines',
                             line=dict(color=BLUE, width=1.6)), row=r, col=c)
    fig.add_hline(y=threshold, line=dict(color='black', width=2.8), row=r, col=c)

    (x0, x1), (y0, y1) = col_px[c - 1], row_px[r - 1]
    x0, x1, y0, y1 = x0 - OFF, x1 - OFF, y0 - OFF, y1 - OFF
    fig.update_xaxes(domain=[x0 / W, x1 / W], row=r, col=c)
    fig.update_yaxes(domain=[1 - y1 / H, 1 - y0 / H], showticklabels=(c == 1), row=r, col=c)
    fig.add_annotation(text=titles[i], x=(x0 + x1) / 2 / W, y=1 - y0 / H, xref='paper', yref='paper',
                       xanchor='center', yanchor='bottom', yshift=-1, showarrow=False,
                       font=dict(size=16, color='black', family='DejaVu Sans'))

fig.update_xaxes(range=[-4.95, 103.95], tick0=0, dtick=20, showgrid=True, gridcolor='#cccccc', gridwidth=1,
                 zeroline=False, showline=True, linecolor='#555555', linewidth=1, mirror=True,
                 ticks='outside', ticklen=3, tickcolor='#555555', tickfont=dict(size=8, color='#333333'))
fig.update_yaxes(range=[0, 0.15], tick0=0, dtick=0.02, tickformat='.2f', showgrid=True, gridcolor='#cccccc',
                 gridwidth=1, zeroline=False, showline=True, linecolor='#555555', linewidth=1, mirror=True,
                 ticks='outside', ticklen=3, tickcolor='#555555', tickfont=dict(size=8, color='#333333'))

fig.update_layout(width=W, height=H, margin=dict(l=0, r=0, t=0, b=0), showlegend=False,
                  plot_bgcolor='white', paper_bgcolor='white', font=dict(family='DejaVu Sans'))

fig.write_html("out.html")
